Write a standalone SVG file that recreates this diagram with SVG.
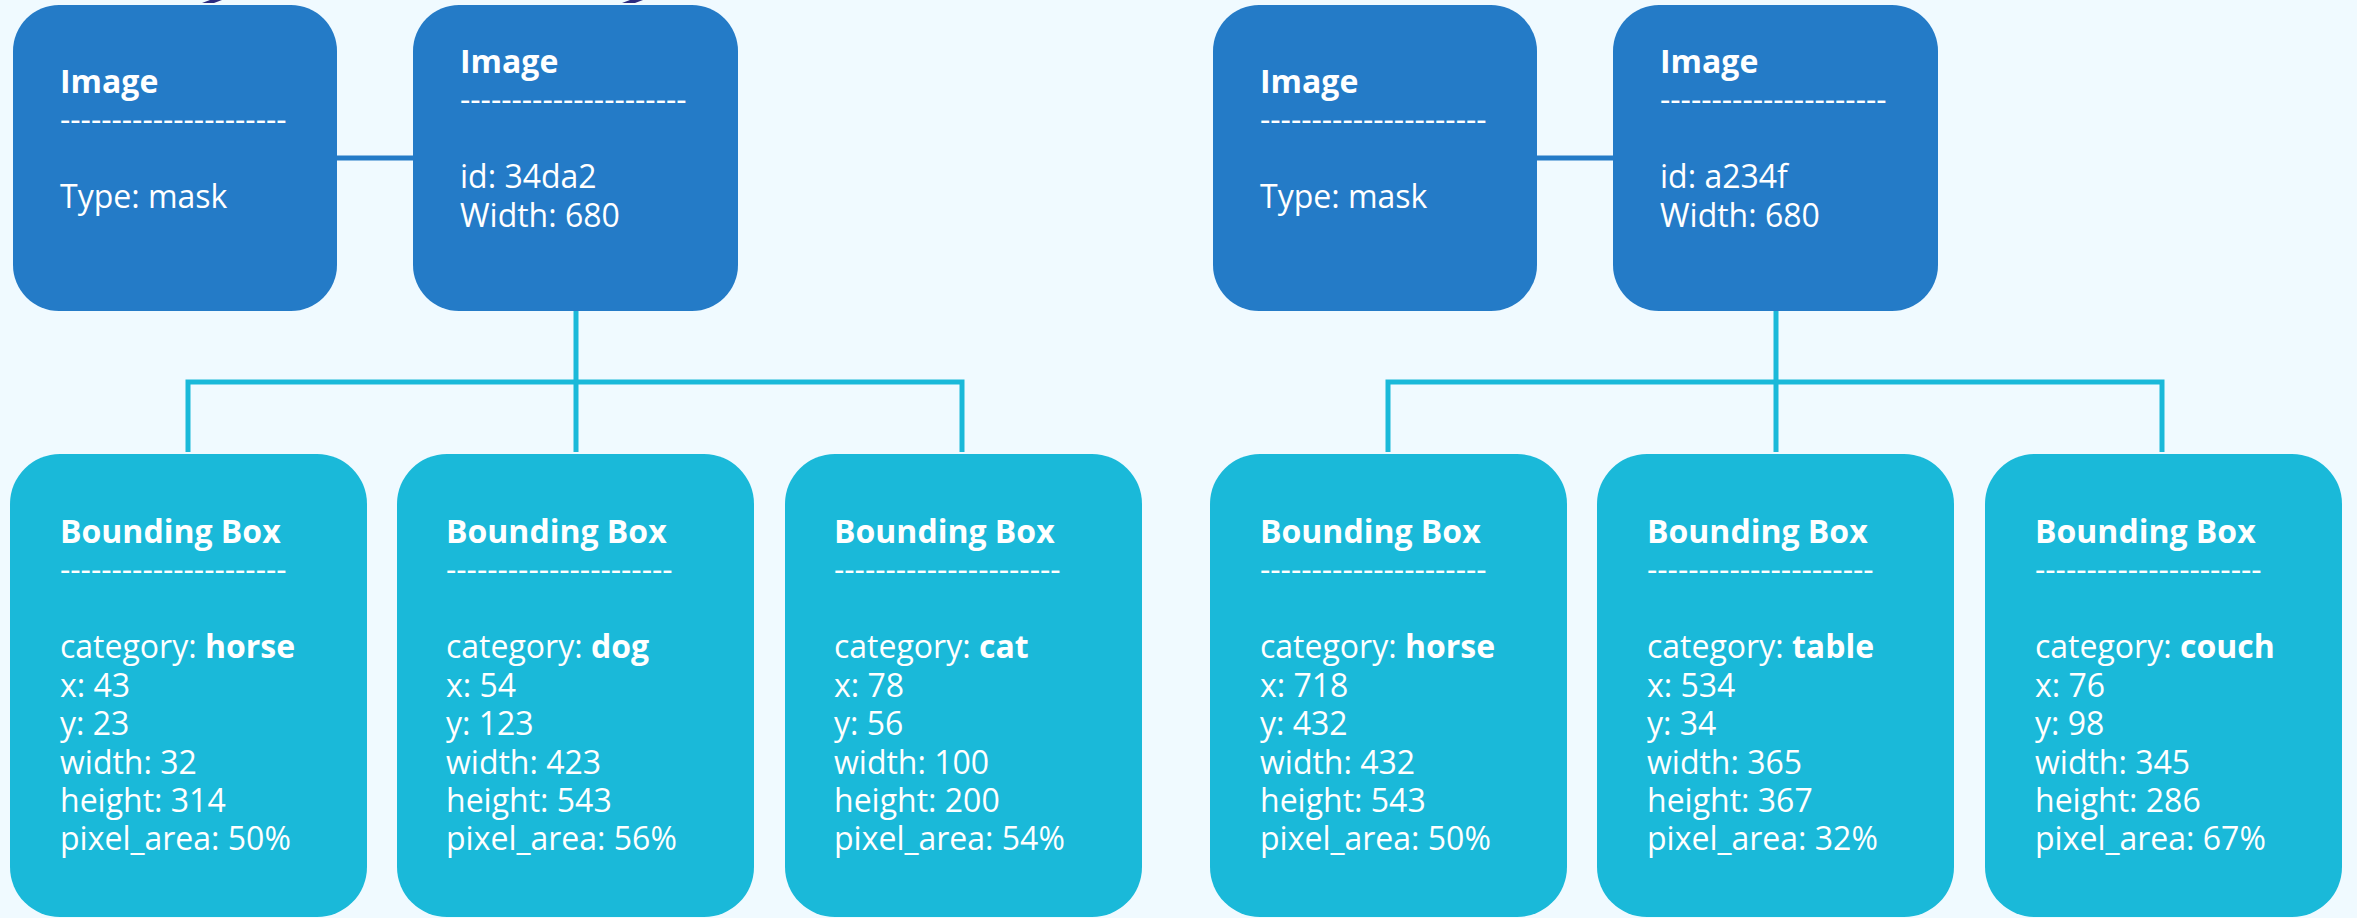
<svg xmlns="http://www.w3.org/2000/svg" width="2357" height="918" viewBox="0 0 2357 918">
  <style>
    .img { fill: #247bc7; }
    .bb { fill: #1ab9d9; }
    text { font-family: "Open Sans", "Liberation Sans", sans-serif; font-size: 32px; fill: #ffffff; }
    .b { font-weight: bold; }
    .link { stroke: #247bc7; stroke-width: 5; fill: none; }
    .tree { stroke: #1ab9d9; stroke-width: 5; fill: none; }
    .brace { fill: #2b2a7f; }
  </style>
  <rect width="2357" height="918" fill="#f0faff"/>

  <!-- brace tips along the top edge -->
  <path class="brace" d="M202 3 L210 0 L222 0 L214 3 Z"/>
  <path class="brace" d="M622 3 L630 0 L643 0 L635 3 Z"/>

  <g id="connectors">
    <line class="link" x1="337" y1="158" x2="413" y2="158"/>
    <path class="tree" d="M576 311 V452 M188 452 V382 H962 V452"/>
    <line class="link" x1="1537" y1="158" x2="1613" y2="158"/>
    <path class="tree" d="M1776 311 V452 M1388 452 V382 H2162 V452"/>
  </g>

  <!-- left tree -->
  <g id="image-mask-1">
    <rect class="img" x="13" y="5" width="324" height="306" rx="46"/>
    <text class="b" x="60" y="93">Image</text>
    <text x="60" y="131">----------------------</text>
    <text x="60" y="208">Type: mask</text>
  </g>
  <g id="image-34da2">
    <rect class="img" x="413" y="5" width="325" height="306" rx="46"/>
    <text class="b" x="460" y="73">Image</text>
    <text x="460" y="111">----------------------</text>
    <text x="460" y="188">id: 34da2</text>
    <text x="460" y="227">Width: 680</text>
  </g>
  <g id="bbox-horse-1">
    <rect class="bb" x="10" y="454" width="357" height="463" rx="50"/>
    <text class="b" x="60" y="543">Bounding Box</text>
    <text x="60" y="581">----------------------</text>
    <text x="60" y="658">category: <tspan class="b">horse</tspan></text>
    <text x="60" y="697">x: 43</text>
    <text x="60" y="735">y: 23</text>
    <text x="60" y="774">width: 32</text>
    <text x="60" y="812">height: 314</text>
    <text x="60" y="850">pixel_area: 50%</text>
  </g>
  <g id="bbox-dog">
    <rect class="bb" x="397" y="454" width="357" height="463" rx="50"/>
    <text class="b" x="446" y="543">Bounding Box</text>
    <text x="446" y="581">----------------------</text>
    <text x="446" y="658">category: <tspan class="b">dog</tspan></text>
    <text x="446" y="697">x: 54</text>
    <text x="446" y="735">y: 123</text>
    <text x="446" y="774">width: 423</text>
    <text x="446" y="812">height: 543</text>
    <text x="446" y="850">pixel_area: 56%</text>
  </g>
  <g id="bbox-cat">
    <rect class="bb" x="785" y="454" width="357" height="463" rx="50"/>
    <text class="b" x="834" y="543">Bounding Box</text>
    <text x="834" y="581">----------------------</text>
    <text x="834" y="658">category: <tspan class="b">cat</tspan></text>
    <text x="834" y="697">x: 78</text>
    <text x="834" y="735">y: 56</text>
    <text x="834" y="774">width: 100</text>
    <text x="834" y="812">height: 200</text>
    <text x="834" y="850">pixel_area: 54%</text>
  </g>

  <!-- right tree -->
  <g id="image-mask-2">
    <rect class="img" x="1213" y="5" width="324" height="306" rx="46"/>
    <text class="b" x="1260" y="93">Image</text>
    <text x="1260" y="131">----------------------</text>
    <text x="1260" y="208">Type: mask</text>
  </g>
  <g id="image-a234f">
    <rect class="img" x="1613" y="5" width="325" height="306" rx="46"/>
    <text class="b" x="1660" y="73">Image</text>
    <text x="1660" y="111">----------------------</text>
    <text x="1660" y="188">id: a234f</text>
    <text x="1660" y="227">Width: 680</text>
  </g>
  <g id="bbox-horse-2">
    <rect class="bb" x="1210" y="454" width="357" height="463" rx="50"/>
    <text class="b" x="1260" y="543">Bounding Box</text>
    <text x="1260" y="581">----------------------</text>
    <text x="1260" y="658">category: <tspan class="b">horse</tspan></text>
    <text x="1260" y="697">x: 718</text>
    <text x="1260" y="735">y: 432</text>
    <text x="1260" y="774">width: 432</text>
    <text x="1260" y="812">height: 543</text>
    <text x="1260" y="850">pixel_area: 50%</text>
  </g>
  <g id="bbox-table">
    <rect class="bb" x="1597" y="454" width="357" height="463" rx="50"/>
    <text class="b" x="1647" y="543">Bounding Box</text>
    <text x="1647" y="581">----------------------</text>
    <text x="1647" y="658">category: <tspan class="b">table</tspan></text>
    <text x="1647" y="697">x: 534</text>
    <text x="1647" y="735">y: 34</text>
    <text x="1647" y="774">width: 365</text>
    <text x="1647" y="812">height: 367</text>
    <text x="1647" y="850">pixel_area: 32%</text>
  </g>
  <g id="bbox-couch">
    <rect class="bb" x="1985" y="454" width="357" height="463" rx="50"/>
    <text class="b" x="2035" y="543">Bounding Box</text>
    <text x="2035" y="581">----------------------</text>
    <text x="2035" y="658">category: <tspan class="b">couch</tspan></text>
    <text x="2035" y="697">x: 76</text>
    <text x="2035" y="735">y: 98</text>
    <text x="2035" y="774">width: 345</text>
    <text x="2035" y="812">height: 286</text>
    <text x="2035" y="850">pixel_area: 67%</text>
  </g>
</svg>
